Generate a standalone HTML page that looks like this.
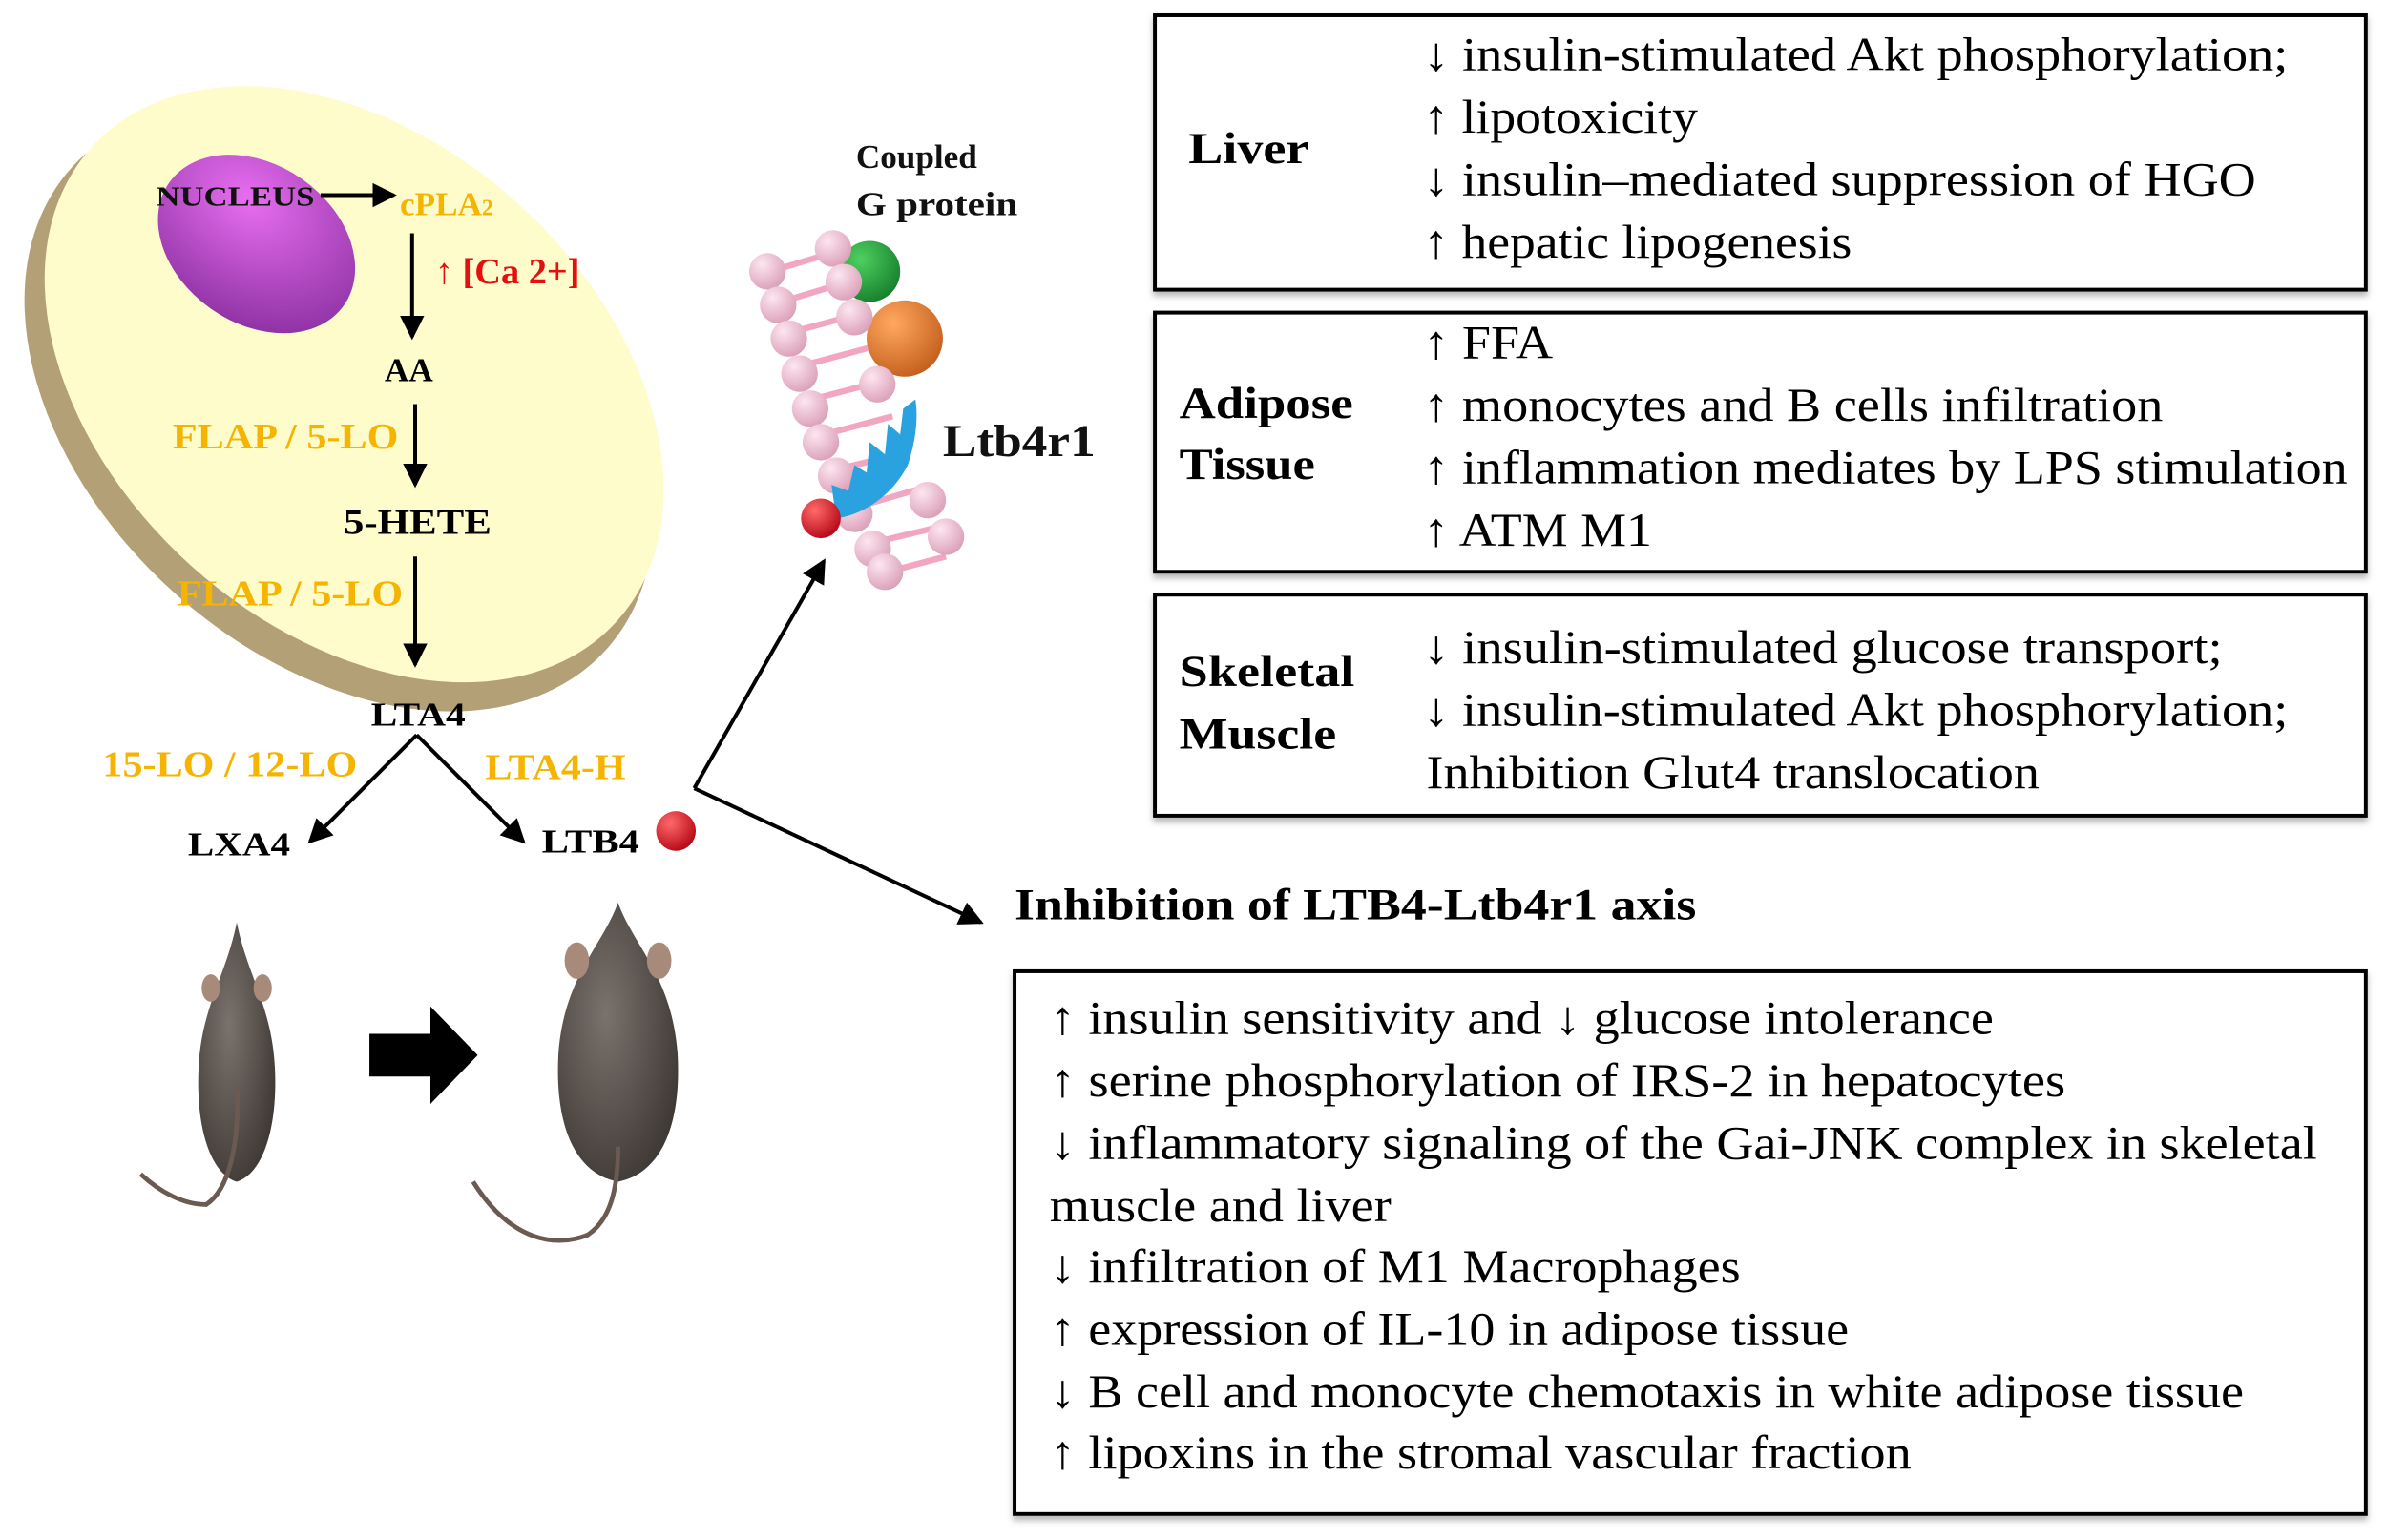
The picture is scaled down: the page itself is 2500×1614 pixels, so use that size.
<!DOCTYPE html>
<html><head><meta charset="utf-8"><style>html,body{margin:0;padding:0;background:#fff}svg{display:block}</style></head>
<body>
<svg width="2500" height="1614" viewBox="0 0 1564 1010" xmlns="http://www.w3.org/2000/svg" font-family="'Liberation Serif', serif">
<defs>
<radialGradient id="nuc" cx="0.35" cy="0.3" r="0.8"><stop offset="0" stop-color="#e86ef0"/><stop offset="1" stop-color="#8a2fa0"/></radialGradient>
<radialGradient id="red" cx="0.35" cy="0.3" r="0.8"><stop offset="0" stop-color="#ff6a6a"/><stop offset="1" stop-color="#b00010"/></radialGradient>
<radialGradient id="grn" cx="0.35" cy="0.3" r="0.8"><stop offset="0" stop-color="#4fd060"/><stop offset="1" stop-color="#137a2a"/></radialGradient>
<radialGradient id="org" cx="0.35" cy="0.3" r="0.8"><stop offset="0" stop-color="#ffa860"/><stop offset="1" stop-color="#c05a18"/></radialGradient>
<radialGradient id="pink" cx="0.35" cy="0.3" r="0.8"><stop offset="0" stop-color="#fde6f0"/><stop offset="1" stop-color="#d89ab4"/></radialGradient>
<radialGradient id="mouse" cx="0.4" cy="0.4" r="0.7"><stop offset="0" stop-color="#7a726c"/><stop offset="1" stop-color="#3c3632"/></radialGradient>
<filter id="sh" x="-5%" y="-5%" width="110%" height="115%"><feDropShadow dx="0" dy="3" stdDeviation="2" flood-color="#888" flood-opacity="0.6"/></filter>
<marker id="ahb" markerWidth="16" markerHeight="16" refX="14" refY="8" orient="auto" markerUnits="userSpaceOnUse"><path d="M0,0 L16,8 L0,16 z" fill="#000"/></marker>
</defs>

<!-- cell -->
<ellipse cx="222" cy="268" rx="236" ry="162" transform="rotate(42 222 268)" fill="#b3a077"/>
<ellipse cx="232" cy="252" rx="232" ry="160" transform="rotate(42 232 252)" fill="#fefccb"/>
<ellipse cx="168" cy="160" rx="70" ry="52" transform="rotate(35 168 160)" fill="url(#nuc)"/>

<g font-weight="bold">
<text x="102" y="135" font-size="18" fill="#111" textLength="104" lengthAdjust="spacingAndGlyphs">NUCLEUS</text>
<text x="262" y="141" font-size="22" fill="#f5b400">cPLA<tspan font-size="15">2</tspan></text>
<text x="285" y="186" font-size="24" fill="#e41010">↑ [Ca 2+]</text>
<text x="252" y="250" font-size="22" fill="#000">AA</text>
<text x="113" y="294" font-size="24" fill="#f5b400" textLength="148" lengthAdjust="spacingAndGlyphs">FLAP / 5-LO</text>
<text x="225" y="350" font-size="23" fill="#000" textLength="97" lengthAdjust="spacingAndGlyphs">5-HETE</text>
<text x="116" y="397" font-size="24" fill="#f5b400" textLength="148" lengthAdjust="spacingAndGlyphs">FLAP / 5-LO</text>
<text x="243" y="476" font-size="22" fill="#000" textLength="62" lengthAdjust="spacingAndGlyphs">LTA4</text>
<text x="67" y="509" font-size="24" fill="#f5b400" textLength="167" lengthAdjust="spacingAndGlyphs">15-LO / 12-LO</text>
<text x="318" y="511" font-size="24" fill="#f5b400" textLength="92" lengthAdjust="spacingAndGlyphs">LTA4-H</text>
<text x="123" y="561" font-size="22" fill="#000" textLength="67" lengthAdjust="spacingAndGlyphs">LXA4</text>
<text x="355" y="559" font-size="22" fill="#000" textLength="64" lengthAdjust="spacingAndGlyphs">LTB4</text>
<text x="561" y="110" font-size="22" fill="#111">Coupled</text>
<text x="561" y="141" font-size="22" fill="#111" textLength="106" lengthAdjust="spacingAndGlyphs">G protein</text>
<text x="618" y="299" font-size="30" fill="#111" textLength="100" lengthAdjust="spacingAndGlyphs">Ltb4r1</text>
</g>

<g stroke="#000" stroke-width="2.5" fill="none">
<line x1="210" y1="128" x2="258" y2="128" marker-end="url(#ahb)"/>
<line x1="270" y1="153" x2="270" y2="221" marker-end="url(#ahb)"/>
<line x1="272" y1="265" x2="272" y2="318" marker-end="url(#ahb)"/>
<line x1="272" y1="365" x2="272" y2="436" marker-end="url(#ahb)"/>
<line x1="273" y1="482" x2="203" y2="552" marker-end="url(#ahb)"/>
<line x1="273" y1="482" x2="343" y2="552" marker-end="url(#ahb)"/>
<line x1="455" y1="517" x2="540" y2="368" marker-end="url(#ahb)"/>
<line x1="455" y1="517" x2="643" y2="605" marker-end="url(#ahb)"/>
</g>
<circle cx="443" cy="545" r="13" fill="url(#red)"/>

<!-- membrane -->
<g>
<g stroke="#f2a6c2" stroke-width="4">
<line x1="505" y1="178" x2="548" y2="165"/><line x1="512" y1="198" x2="555" y2="185"/>
<line x1="518" y1="218" x2="563" y2="206"/><line x1="525" y1="240" x2="570" y2="228"/>
<line x1="532" y1="262" x2="578" y2="250"/><line x1="540" y1="285" x2="585" y2="273"/>
<line x1="548" y1="308" x2="593" y2="297"/><line x1="560" y1="333" x2="605" y2="320"/>
<line x1="572" y1="356" x2="618" y2="345"/><line x1="582" y1="375" x2="620" y2="365"/>
</g>
<g fill="url(#pink)">
<circle cx="503" cy="178" r="12"/><circle cx="510" cy="200" r="12"/><circle cx="517" cy="222" r="12"/>
<circle cx="524" cy="245" r="12"/><circle cx="531" cy="268" r="12"/><circle cx="538" cy="290" r="12"/>
<circle cx="548" cy="312" r="12"/><circle cx="560" cy="337" r="12"/><circle cx="572" cy="360" r="12"/>
<circle cx="580" cy="375" r="12"/>
</g>
<circle cx="570" cy="178" r="20" fill="url(#grn)"/>
<circle cx="593" cy="222" r="25" fill="url(#org)"/>
<g fill="url(#pink)">
<circle cx="546" cy="163" r="12"/><circle cx="553" cy="185" r="12"/><circle cx="560" cy="208" r="12"/>
<circle cx="575" cy="252" r="12"/><circle cx="608" cy="328" r="12"/><circle cx="620" cy="352" r="12"/>
</g>
<path d="M548,340 C565,338 585,325 595,305 C600,290 602,275 600,262 L592,268 L590,285 L582,278 L580,298 L570,290 L568,310 L560,305 L556,322 L545,318 Z" fill="#2aa2e0"/>
<circle cx="538" cy="340" r="13" fill="url(#red)"/>
</g>

<!-- mice -->
<g>
<path d="M155,605 C148,640 132,660 130,700 C128,740 138,770 155,775 C172,770 182,740 180,700 C178,660 162,640 155,605 Z" fill="url(#mouse)"/>
<ellipse cx="138" cy="648" rx="6" ry="9" fill="#a88a7a"/><ellipse cx="172" cy="648" rx="6" ry="9" fill="#a88a7a"/>
<path d="M155,772 C157,810 150,840 135,850 C120,850 105,842 92,830" stroke="#6b5a52" stroke-width="3" fill="none" transform="translate(0,-60)"/>
<path d="M405,592 C395,620 370,640 366,690 C363,740 378,770 405,775 C432,770 447,740 444,690 C440,640 415,620 405,592 Z" fill="url(#mouse)"/>
<ellipse cx="378" cy="630" rx="8" ry="12" fill="#a88a7a"/><ellipse cx="432" cy="630" rx="8" ry="12" fill="#a88a7a"/>
<path d="M405,772 C405,800 400,820 385,830 C365,838 335,835 310,795" stroke="#6b5a52" stroke-width="3" fill="none" transform="translate(0,-20)"/>
<path d="M242,678 L282,678 L282,660 L313,692 L282,724 L282,706 L242,706 Z" fill="#000"/>
</g>

<!-- boxes -->
<g fill="#fff" stroke="#000" stroke-width="2.5" filter="url(#sh)">
<rect x="757" y="10" width="794" height="180"/>
<rect x="757" y="205" width="794" height="170"/>
<rect x="757" y="390" width="794" height="145"/>
<rect x="665" y="637" width="886" height="356"/>
</g>
<g font-weight="bold" font-size="29" fill="#000" lengthAdjust="spacingAndGlyphs">
<text x="779" y="107" textLength="79" lengthAdjust="spacingAndGlyphs">Liver</text>
<text x="773" y="274" textLength="114" lengthAdjust="spacingAndGlyphs">Adipose</text>
<text x="773" y="314" textLength="89" lengthAdjust="spacingAndGlyphs">Tissue</text>
<text x="773" y="450" textLength="115" lengthAdjust="spacingAndGlyphs">Skeletal</text>
<text x="773" y="491" textLength="103" lengthAdjust="spacingAndGlyphs">Muscle</text>
<text x="665" y="603" textLength="447" lengthAdjust="spacingAndGlyphs">Inhibition of LTB4-Ltb4r1 axis</text>
</g>
<g font-size="31" fill="#000">
<text x="933" y="46" textLength="567" lengthAdjust="spacingAndGlyphs">↓ insulin-stimulated Akt phosphorylation;</text>
<text x="933" y="87" textLength="180" lengthAdjust="spacingAndGlyphs">↑ lipotoxicity</text>
<text x="933" y="128" textLength="546" lengthAdjust="spacingAndGlyphs">↓ insulin–mediated suppression of HGO</text>
<text x="933" y="169" textLength="281" lengthAdjust="spacingAndGlyphs">↑ hepatic lipogenesis</text>
<text x="933" y="235" textLength="85" lengthAdjust="spacingAndGlyphs">↑ FFA</text>
<text x="933" y="276" textLength="485" lengthAdjust="spacingAndGlyphs">↑ monocytes and B cells infiltration</text>
<text x="933" y="317" textLength="606" lengthAdjust="spacingAndGlyphs">↑ inflammation mediates by LPS stimulation</text>
<text x="933" y="358" textLength="150" lengthAdjust="spacingAndGlyphs">↑ ATM M1</text>
<text x="933" y="435" textLength="524" lengthAdjust="spacingAndGlyphs">↓ insulin-stimulated glucose transport;</text>
<text x="933" y="476" textLength="567" lengthAdjust="spacingAndGlyphs">↓ insulin-stimulated Akt phosphorylation;</text>
<text x="935" y="517" textLength="402" lengthAdjust="spacingAndGlyphs">Inhibition Glut4 translocation</text>
<text x="688" y="678" textLength="619" lengthAdjust="spacingAndGlyphs">↑ insulin sensitivity and ↓ glucose intolerance</text>
<text x="688" y="719" textLength="666" lengthAdjust="spacingAndGlyphs">↑ serine phosphorylation of IRS-2 in hepatocytes</text>
<text x="688" y="760" textLength="831" lengthAdjust="spacingAndGlyphs">↓ inflammatory signaling of the Gai-JNK complex in skeletal</text>
<text x="688" y="801" textLength="224" lengthAdjust="spacingAndGlyphs">muscle and liver</text>
<text x="688" y="841" textLength="453" lengthAdjust="spacingAndGlyphs">↓ infiltration of M1 Macrophages</text>
<text x="688" y="882" textLength="524" lengthAdjust="spacingAndGlyphs">↑ expression of IL-10 in adipose tissue</text>
<text x="688" y="923" textLength="783" lengthAdjust="spacingAndGlyphs">↓ B cell and monocyte chemotaxis in white adipose tissue</text>
<text x="688" y="963" textLength="565" lengthAdjust="spacingAndGlyphs">↑ lipoxins in the stromal vascular fraction</text>
</g>
</svg>
</body></html>
